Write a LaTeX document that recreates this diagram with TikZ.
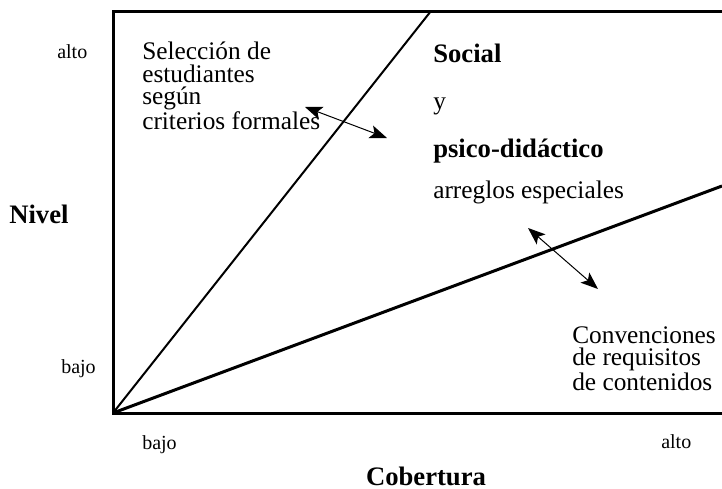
\documentclass[tikz,border=0pt]{standalone}
\usepackage{fontspec}
\setmainfont{Liberation Serif}
\usetikzlibrary{arrows.meta}
\tikzset{>={Stealth[length=13pt, width=10pt, inset=3pt]}}
\tikzset{
    scale text/.style={font=\fontsize{15}{18}\selectfont, inner sep=0pt},
    axis title/.style={font=\fontsize{20}{24}\selectfont\bfseries, inner sep=0pt},
    zone text/.style={font=\fontsize{19}{16.7}\selectfont, align=left, inner sep=0pt},
}

\begin{document}
\begin{tikzpicture}[x=0.75pt, y=-0.75pt]
    \useasboundingbox (0, 0) rectangle (722, 489);
    \coordinate (origin) at (113, 413);
    \coordinate (top left) at (113, 11);
    \coordinate (top right) at (722, 11);
    \coordinate (bottom right) at (722, 413);
    \coordinate (steep end) at (431, 11);
    \coordinate (flat end) at (722, 186);
    \draw[line width=2.25pt, line join=miter] (top right) -- (top left) -- (origin) -- (bottom right);
    \draw[line width=1.5pt] (origin) -- (steep end);
    \draw[line width=2.25pt] (origin) -- (flat end);
    % double arrows across the two borders
    \coordinate (upper a) at (305, 107);
    \coordinate (upper b) at (387, 138);
    \coordinate (lower a) at (528, 228);
    \coordinate (lower b) at (598, 289);
    \draw[<->, line width=0.75pt] (upper a) -- (upper b);
    \draw[<->, line width=0.75pt] (lower a) -- (lower b);
    % axes
    \node[scale text, anchor=base west] (level high) at (57, 58) {alto};
    \node[scale text, anchor=base west] (level low) at (61, 373) {bajo};
    \node[axis title, anchor=base west] (level) at (9, 223) {Nivel};
    \node[scale text, anchor=base west] (cover low) at (142, 449) {bajo};
    \node[scale text, anchor=base west] (cover high) at (661, 448) {alto};
    \node[axis title, anchor=base] (cover) at (426, 485) {Cobertura};
    % zones (base = last line)
    \node[zone text, anchor=base west] (selection) at (142, 129)
        {Selección de\\estudiantes\\según\\criterios formales};
    \node[axis title, anchor=base west] (social) at (433, 62) {Social};
    \node[zone text, anchor=base west] (and) at (433, 109) {y};
    \node[axis title, anchor=base west] (psico) at (433, 157) {psico-didáctico};
    \node[zone text, anchor=base west] (special) at (433, 198) {arreglos especiales};
    \node[zone text, anchor=base west] (conventions) at (572, 390)
        {Convenciones\\de requisitos\\de contenidos};
\end{tikzpicture}
\end{document}
